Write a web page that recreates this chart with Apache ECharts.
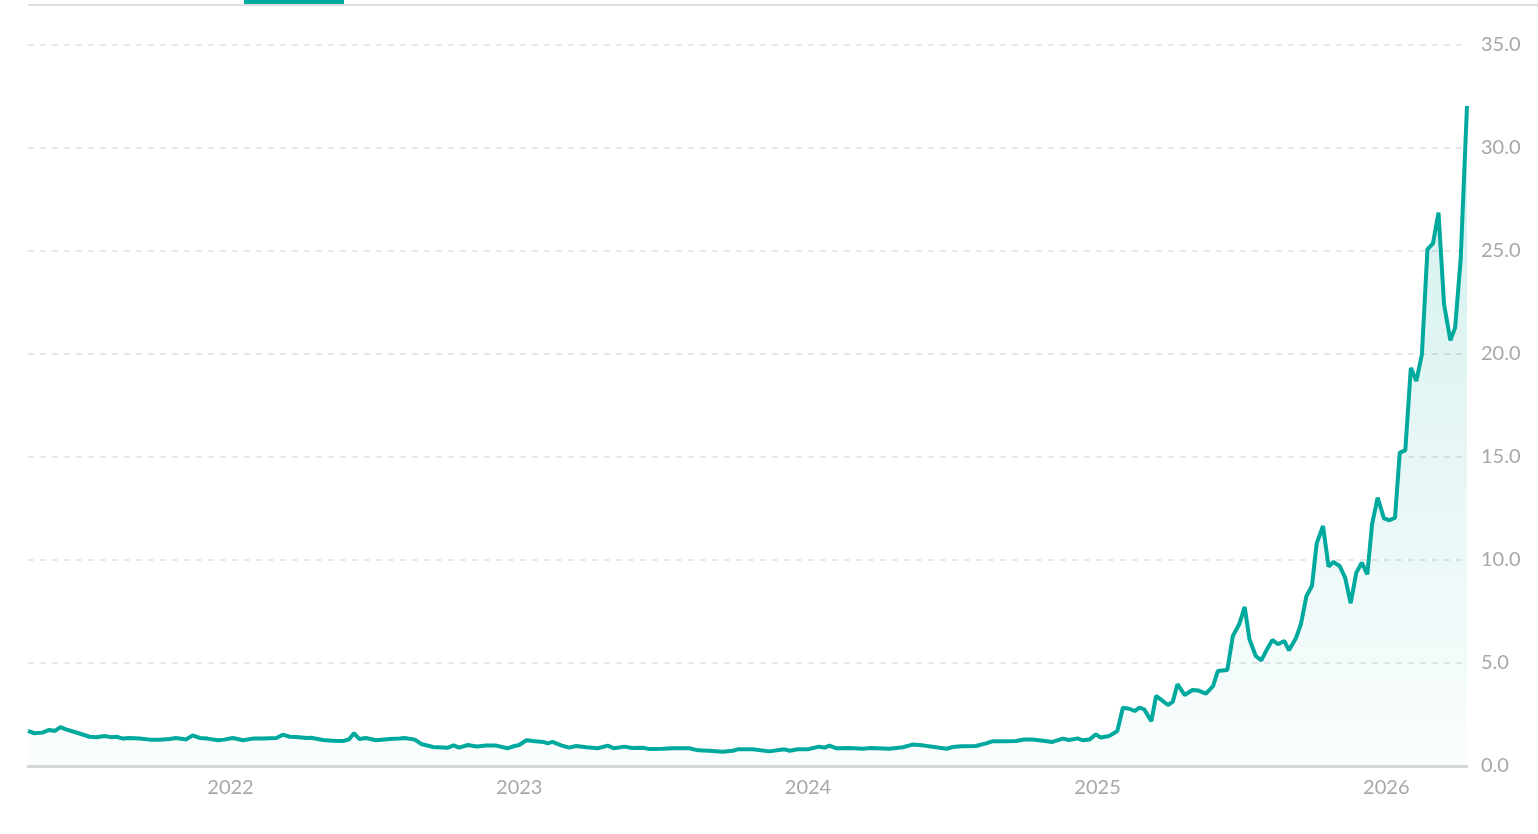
<!DOCTYPE html>
<html>
<head>
<meta charset="utf-8">
<script src="https://cdn.jsdelivr.net/npm/echarts@6/dist/echarts.min.js"></script>
<style>
  html, body { margin: 0; padding: 0; background: #ffffff; }
  #chart { width: 1538px; height: 834px; }
</style>
</head>
<body>
<div id="chart"></div>
<script>
const dates = [
'2021-04-20','2021-04-28','2021-05-08','2021-05-17','2021-05-24','2021-05-31','2021-06-07','2021-06-18','2021-07-07','2021-07-15',
'2021-07-26','2021-08-03','2021-08-10','2021-08-18','2021-08-26','2021-09-08','2021-09-21','2021-10-03','2021-10-16','2021-10-24',
'2021-11-06','2021-11-14','2021-11-23','2021-12-03','2021-12-16','2021-12-24','2022-01-04','2022-01-17','2022-01-29','2022-02-11',
'2022-02-28','2022-03-08','2022-03-17','2022-03-29','2022-04-07','2022-04-13','2022-04-28','2022-05-10','2022-05-23','2022-05-31',
'2022-06-06','2022-06-13','2022-06-21','2022-07-04','2022-07-21','2022-08-03','2022-08-09','2022-08-22','2022-08-30','2022-09-14',
'2022-10-03','2022-10-10','2022-10-17','2022-10-28','2022-11-08','2022-11-20','2022-12-03','2022-12-17','2022-12-26','2023-01-01',
'2023-01-10','2023-01-18','2023-01-31','2023-02-06','2023-02-12','2023-02-23','2023-03-05','2023-03-14','2023-03-27','2023-04-10',
'2023-04-23','2023-05-01','2023-05-14','2023-05-24','2023-06-06','2023-06-15','2023-07-01','2023-07-14','2023-08-04','2023-08-15',
'2023-08-29','2023-09-15','2023-09-28','2023-10-04','2023-10-23','2023-11-13','2023-12-02','2023-12-09','2023-12-19','2024-01-01',
'2024-01-15','2024-01-22','2024-01-28','2024-02-06','2024-02-22','2024-03-10','2024-03-21','2024-04-13','2024-04-30','2024-05-12',
'2024-05-27','2024-06-11','2024-06-24','2024-07-02','2024-07-12','2024-07-31','2024-08-13','2024-08-21','2024-09-07','2024-09-20',
'2024-09-30','2024-10-11','2024-10-24','2024-11-05','2024-11-18','2024-11-26','2024-12-07','2024-12-13','2024-12-22','2024-12-30',
'2025-01-05','2025-01-16','2025-01-26','2025-02-02','2025-02-10','2025-02-17','2025-02-23','2025-03-01','2025-03-10','2025-03-16',
'2025-03-31','2025-04-06','2025-04-12','2025-04-21','2025-05-01','2025-05-08','2025-05-18','2025-05-27','2025-06-02','2025-06-14',
'2025-06-21','2025-06-29','2025-07-06','2025-07-12','2025-07-20','2025-07-27','2025-08-02','2025-08-10','2025-08-17','2025-08-25',
'2025-08-31','2025-09-09','2025-09-15','2025-09-22','2025-09-29','2025-10-05','2025-10-13','2025-10-20','2025-10-26','2025-11-03',
'2025-11-10','2025-11-17','2025-11-24','2025-12-01','2025-12-08','2025-12-14','2025-12-21','2025-12-29','2026-01-05','2026-01-12',
'2026-01-18','2026-01-25','2026-02-01','2026-02-08','2026-02-15','2026-02-22','2026-03-01','2026-03-08','2026-03-15','2026-03-23',
'2026-03-29','2026-04-05','2026-04-13'
];

const values = [
1.70,1.59,1.62,1.75,1.70,1.89,1.78,1.65,1.42,1.40,
1.46,1.40,1.42,1.33,1.36,1.34,1.28,1.28,1.31,1.36,
1.29,1.49,1.36,1.33,1.25,1.28,1.36,1.25,1.33,1.33,
1.36,1.52,1.42,1.40,1.36,1.37,1.26,1.23,1.21,1.30,
1.59,1.31,1.36,1.25,1.31,1.33,1.36,1.28,1.07,0.92,
0.89,1.00,0.89,1.02,0.95,1.00,0.99,0.86,0.97,1.02,
1.25,1.21,1.17,1.10,1.17,1.00,0.89,0.97,0.91,0.86,
0.99,0.86,0.94,0.87,0.89,0.82,0.84,0.86,0.86,0.76,
0.74,0.69,0.74,0.81,0.81,0.71,0.81,0.74,0.81,0.81,
0.94,0.89,0.99,0.86,0.87,0.84,0.87,0.84,0.91,1.04,
0.99,0.91,0.84,0.92,0.96,0.97,1.10,1.20,1.20,1.21,
1.29,1.29,1.23,1.17,1.33,1.26,1.34,1.25,1.29,1.54,
1.38,1.46,1.70,2.83,2.78,2.67,2.83,2.75,2.18,3.40,
2.96,3.11,3.97,3.45,3.69,3.67,3.51,3.88,4.61,4.66,
6.31,6.88,7.72,6.15,5.34,5.13,5.58,6.12,5.91,6.07,
5.62,6.23,6.88,8.25,8.74,10.81,11.65,9.68,9.90,9.71,
9.14,7.90,9.38,9.87,9.30,11.73,13.03,12.02,11.93,12.05,
15.21,15.32,19.33,18.69,19.98,25.08,25.37,26.86,22.41,20.66,
21.28,24.60,32.04
];

const yTicks = { min: 0, max: 35, interval: 5 };

const seriesData = dates.map((d, i) => [d, values[i]]);

const chart = echarts.init(document.getElementById('chart'), null, { renderer: 'canvas' });

const teal = '#00a99d';
const labelColor = '#a8a8a8';
const fontFamily = 'Lato, "Noto Sans", sans-serif';

chart.setOption({
  animation: false,
  backgroundColor: '#ffffff',
  grid: { left: 28, right: 71, top: 45, bottom: 68, containLabel: false },
  graphic: [
    { type: 'rect', left: 28, top: 4, shape: { width: 1510, height: 2 }, style: { fill: '#dcdee2' }, z: 10 },
    { type: 'rect', left: 244, top: 0, shape: { width: 100, height: 4 }, style: { fill: teal }, z: 11 }
  ],
  xAxis: {
    type: 'time',
    min: dates[0],
    max: dates[dates.length - 1],
    splitNumber: 10,
    axisLine: { show: true, lineStyle: { color: '#d6d6d6', width: 3 } },
    axisTick: { show: false },
    splitLine: { show: false },
    axisLabel: {
      color: labelColor,
      fontSize: 20,
      fontFamily: fontFamily,
      margin: 12,
      hideOverlap: false,
      showMinLabel: false,
      showMaxLabel: false,
      formatter: function (val) {
        const d = new Date(val);
        if (d.getMonth() === 0 && d.getDate() === 1) return String(d.getFullYear());
        return '';
      }
    }
  },
  yAxis: {
    type: 'value',
    position: 'right',
    min: yTicks.min,
    max: yTicks.max,
    interval: yTicks.interval,
    axisLine: { show: false },
    axisTick: { show: false },
    splitLine: { show: true, lineStyle: { color: '#e0e0e0', width: 1.5, type: [6, 6] } },
    axisLabel: {
      color: labelColor,
      fontSize: 20,
      fontFamily: fontFamily,
      margin: 14,
      formatter: function (v) { return v.toFixed(1); }
    }
  },
  series: [{
    type: 'line',
    data: seriesData,
    showSymbol: false,
    symbol: 'none',
    smooth: false,
    lineStyle: { color: teal, width: 4 },
    itemStyle: { color: teal },
    areaStyle: {
      color: new echarts.graphic.LinearGradient(0, 0, 0, 1, [
        { offset: 0, color: 'rgba(0,169,157,0.26)' },
        { offset: 1, color: 'rgba(0,169,157,0.03)' }
      ])
    },
    z: 3
  }]
});
</script>
</body>
</html>
